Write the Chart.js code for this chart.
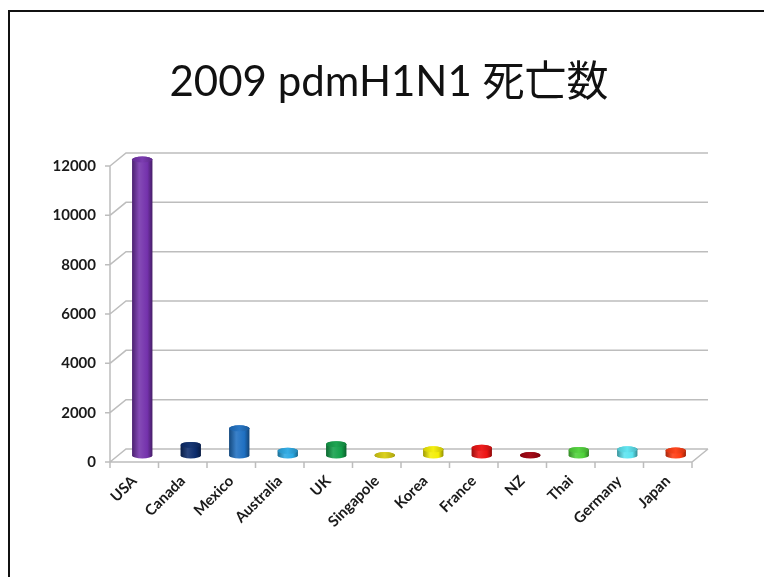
<!DOCTYPE html>
<html>
<head>
<meta charset="utf-8">
<script src="https://cdn.jsdelivr.net/npm/chart.js@4"></script>
<style>
    html, body { margin: 0; padding: 0; background: #fff; }
    #wrap { position: relative; width: 764px; height: 577px; overflow: hidden; }
    #frame {
        position: absolute; left: 8px; top: 10px; width: 800px; height: 600px;
        border-top: 2px solid #111; border-left: 2px solid #111;
    }
    #chart { position: absolute; left: 0; top: 0; }
</style>
</head>
<body>
<div id="wrap">
    <div id="frame"></div>
    <canvas id="chart" width="764" height="577"></canvas>
</div>
<script>
// Data
const titleText = '2009 pdmH1N1 死亡数';
const countries = ['USA', 'Canada', 'Mexico', 'Australia', 'UK', 'Singapole', 'Korea', 'France', 'NZ', 'Thai', 'Germany', 'Japan'];
const deaths = [12000, 428, 1100, 191, 457, 18, 250, 312, 20, 225, 250, 198];
const barColors = ['#7432ac', '#0c2c6c', '#1f70c2', '#2aa9e4', '#13a04a', '#d9cf12', '#f4ee06', '#ee1212', '#a0000e', '#4fd23a', '#5be4f0', '#ff3c12'];

// 3D box depth
const depth = { dx: 16, dy: 13 };
const gridColor = '#bdbdbd';

// Blend a hex colour towards black (amt < 0) or white (amt > 0)
function shade(hex, amt) {
    const n = parseInt(hex.slice(1), 16);
    let r = n >> 16, g = (n >> 8) & 255, b = n & 255;
    const t = amt < 0 ? 0 : 255, p = Math.abs(amt);
    r = Math.round(r + (t - r) * p);
    g = Math.round(g + (t - g) * p);
    b = Math.round(b + (t - b) * p);
    return `rgb(${r},${g},${b})`;
}

// Back walls, floor and axis lines
const box3dPlugin = {
    id: 'box3d',
    beforeDatasetsDraw(chart) {
        const { ctx, chartArea: { left, right, top, bottom }, scales: { x, y } } = chart;
        const { dx, dy } = depth;
        ctx.save();
        ctx.strokeStyle = gridColor;
        ctx.lineWidth = 1.5;
        ctx.beginPath();
        y.ticks.forEach(t => {
            const py = y.getPixelForValue(t.value);
            ctx.moveTo(left, py);
            ctx.lineTo(left + dx, py - dy);
            ctx.lineTo(right + dx, py - dy);
            // small tick on the front axis
            ctx.moveTo(left - 5, py);
            ctx.lineTo(left, py);
        });
        // front vertical axis
        ctx.moveTo(left, top);
        ctx.lineTo(left, bottom);
        // floor front edge + right side
        ctx.moveTo(left, bottom);
        ctx.lineTo(right, bottom);
        ctx.lineTo(right + dx, bottom - dy);
        // category tick marks
        const n = x.ticks.length;
        for (let i = 0; i <= n; i++) {
            const px = left + (right - left) * i / n;
            ctx.moveTo(px, bottom);
            ctx.lineTo(px, bottom + 6);
        }
        ctx.stroke();
        ctx.restore();
    },
    // replace the flat rectangles with cylinders
    beforeDatasetDraw(chart, args) {
        const { ctx } = chart;
        const { dx, dy } = depth;
        const colors = chart.data.datasets[args.index].barColors;
        ctx.save();
        args.meta.data.forEach((bar, i) => {
            const base = colors[i];
            const cx = bar.x + dx / 2;
            const rx = bar.width / 2;
            const ry = 3;
            const topY = bar.y - dy / 2;
            const botY = bar.base - dy / 2;

            const grad = ctx.createLinearGradient(cx - rx, 0, cx + rx, 0);
            grad.addColorStop(0, shade(base, -0.35));
            grad.addColorStop(0.35, shade(base, 0.12));
            grad.addColorStop(0.75, base);
            grad.addColorStop(1, shade(base, -0.4));

            ctx.fillStyle = grad;
            ctx.beginPath();
            ctx.moveTo(cx - rx, topY);
            ctx.lineTo(cx - rx, botY);
            ctx.ellipse(cx, botY, rx, ry, 0, Math.PI, 0, true);
            ctx.lineTo(cx + rx, topY);
            ctx.ellipse(cx, topY, rx, ry, 0, 0, Math.PI, true);
            ctx.closePath();
            ctx.fill();

            // top cap
            const capGrad = ctx.createLinearGradient(cx - rx, 0, cx + rx, 0);
            capGrad.addColorStop(0, shade(base, -0.15));
            capGrad.addColorStop(0.5, shade(base, 0.05));
            capGrad.addColorStop(1, shade(base, -0.2));
            ctx.fillStyle = capGrad;
            ctx.beginPath();
            ctx.ellipse(cx, topY, rx, ry, 0, 0, Math.PI * 2);
            ctx.fill();
        });
        ctx.restore();
        return false;
    },
    afterDraw(chart) {
        const { ctx } = chart;
        ctx.save();
        ctx.fillStyle = '#111';
        ctx.font = '42px Lato, "Noto Sans CJK JP", sans-serif';
        ctx.textAlign = 'center';
        ctx.textBaseline = 'alphabetic';
        ctx.fillText(titleText, 389, 96);
        ctx.restore();
    }
};

function initChart() {
    const el = document.getElementById('chart');
    new Chart(el, {
        type: 'bar',
        data: {
            labels: countries,
            datasets: [{
                data: deaths,
                barColors,
                backgroundColor: barColors,
                barPercentage: 0.5,
                categoryPercentage: 0.84
            }]
        },
        options: {
            responsive: false,
            animation: false,
            layout: { padding: { top: 166, left: 0, right: 72, bottom: 0 } },
            plugins: {
                legend: { display: false },
                tooltip: { enabled: false }
            },
            scales: {
                x: {
                    grid: { display: false, drawTicks: false },
                    border: { display: false },
                    ticks: {
                        autoSkip: false,
                        minRotation: 45,
                        maxRotation: 45,
                        padding: 10,
                        color: '#1a1a1a',
                        font: { family: 'Lato', size: 15, weight: 'bold' }
                    },
                    afterFit(scale) { scale.height = 115; }
                },
                y: {
                    min: 0,
                    max: 12000,
                    grid: { display: false, drawTicks: false },
                    border: { display: false },
                    ticks: {
                        stepSize: 2000,
                        padding: 14,
                        color: '#1a1a1a',
                        font: { family: 'Lato', size: 15, weight: 'bold' },
                        callback: v => String(v)
                    },
                    afterFit(scale) { scale.width = 110; }
                }
            }
        },
        plugins: [box3dPlugin]
    });
}

document.addEventListener('DOMContentLoaded', initChart);
</script>
</body>
</html>
